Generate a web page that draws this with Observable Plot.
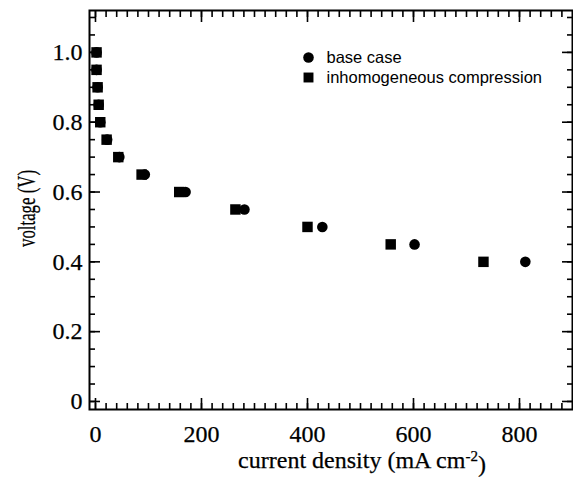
<!DOCTYPE html>
<html>
<head>
<meta charset="utf-8">
<script src="https://cdn.jsdelivr.net/npm/d3@7"></script>
<script src="https://cdn.jsdelivr.net/npm/@observablehq/plot@0.6"></script>
<style>
  html, body { margin: 0; padding: 0; background: white; }
</style>
</head>
<body>
<div id="chart"></div>
<script>
// ---- data ----
const voltage = [1.0, 0.95, 0.9, 0.85, 0.8, 0.75, 0.7, 0.65, 0.6, 0.55, 0.5, 0.45, 0.4];
const baseCase = [2, 2, 4, 6, 9, 22, 45, 93, 170, 281, 428, 602, 811];
const inhomogeneous = [2, 2, 4, 6, 9, 21, 43, 87, 158, 264, 400, 557, 732];
const seriesNames = ["base case", "inhomogeneous compression"];

const xMajor = [0, 200, 400, 600, 800];
const xTickLabels = ["0", "200", "400", "600", "800"];
const yMajor = [0, 0.2, 0.4, 0.6, 0.8, 1.0];
const yTickLabels = ["0", "0.2", "0.4", "0.6", "0.8", "1.0"];
const xMinor = d3.range(0, 900, 20);
const yMinor = d3.range(0, 1.101, 0.05);

const xTitle = "current density (mA cm";
const xTitleSup = "-2";
const xTitleEnd = ")";
const yTitle = "voltage (V)";

// ---- build rows ----
const baseRows = voltage.map((v, i) => ({x: baseCase[i], y: v}));
const inhomRows = voltage.map((v, i) => ({x: inhomogeneous[i], y: v}));

const serif = "Liberation Serif";
const sans = "Liberation Sans";
const noText = () => "";
const tickStyle = {label: null, tickFormat: noText, strokeWidth: 1.6};

const chart = Plot.plot({
  width: 573,
  height: 477,
  marginLeft: 89,
  marginRight: 1,
  marginTop: 10,
  marginBottom: 68,
  x: {domain: [-11.3, 900]},
  y: {domain: [-0.023, 1.12]},
  style: {fontFamily: serif, background: "white", color: "black"},
  marks: [
    // inward ticks on all four sides
    Plot.axisX({anchor: "bottom", ticks: xMajor, tickSize: -11, ...tickStyle}),
    Plot.axisX({anchor: "bottom", ticks: xMinor, tickSize: -6, ...tickStyle}),
    Plot.axisX({anchor: "top", ticks: xMajor, tickSize: -11, ...tickStyle}),
    Plot.axisX({anchor: "top", ticks: xMinor, tickSize: -6, ...tickStyle}),
    Plot.axisY({anchor: "left", ticks: yMajor, tickSize: -11, ...tickStyle}),
    Plot.axisY({anchor: "left", ticks: yMinor, tickSize: -6, ...tickStyle}),
    Plot.axisY({anchor: "right", ticks: yMajor, tickSize: -11, ...tickStyle}),
    Plot.axisY({anchor: "right", ticks: yMinor, tickSize: -6, ...tickStyle}),
    // tick labels
    Plot.axisX({anchor: "bottom", ticks: xMajor, tickSize: 0, tickPadding: 15, label: null,
      tickFormat: d => xTickLabels[xMajor.indexOf(d)], fontSize: 24}),
    Plot.axisY({anchor: "left", ticks: yMajor, tickSize: 0, tickPadding: 7, label: null,
      tickFormat: d => yTickLabels[yMajor.indexOf(d)], fontSize: 24}),
    Plot.frame({stroke: "black", strokeWidth: 2}),
    // data
    Plot.dot(baseRows, {x: "x", y: "y", r: 5.3, fill: "black", symbol: "circle"}),
    Plot.dot(inhomRows, {x: "x", y: "y", r: 5.9, fill: "black", symbol: "square"}),
    // legend
    Plot.dot([seriesNames[0]], {frameAnchor: "top-left", dx: 219, dy: 47, r: 5.3, fill: "black", symbol: "circle"}),
    Plot.dot([seriesNames[1]], {frameAnchor: "top-left", dx: 219, dy: 67, r: 5.6, fill: "black", symbol: "square"}),
    Plot.text([seriesNames[0]], {text: d => d, frameAnchor: "top-left", dx: 237, dy: 47, textAnchor: "start",
      lineAnchor: "middle", fontSize: 16.5, fill: "black"}),
    Plot.text([seriesNames[1]], {text: d => d, frameAnchor: "top-left", dx: 237, dy: 67, textAnchor: "start",
      lineAnchor: "middle", fontSize: 16.5, fill: "black"}),
    // axis titles
    Plot.text([xTitle], {text: d => d, frameAnchor: "bottom", dx: 31, dy: 51, textAnchor: "middle",
      lineAnchor: "middle", fontSize: 24, fill: "black"}),
    Plot.text([yTitle], {text: d => d, frameAnchor: "left", dx: -63, dy: -1.5, rotate: -90, textAnchor: "middle",
      lineAnchor: "middle", fontSize: 25, fill: "black"})
  ]
});

document.getElementById("chart").appendChild(chart);

const svg = d3.select(chart);

// all text serif, legend sans
svg.selectAll("text").each(function () {
  const t = d3.select(this);
  const isLegend = seriesNames.includes(t.text());
  const fam = isLegend ? `"${sans}", Arial, sans-serif` : `"${serif}", "Times New Roman", serif`;
  t.attr("font-family", fam).style("font-family", fam).style("font-variant", "normal");
  if (!isLegend) t.style("stroke", "black").style("stroke-width", 0.25);
});

// superscript in x title
const xt = svg.selectAll("text").filter(function () {
  return d3.select(this).text() === xTitle;
});
xt.text(null);
xt.append("tspan").text(xTitle);
xt.append("tspan").attr("dy", "-0.45em").attr("font-size", 15).text(xTitleSup);
xt.append("tspan").attr("dy", "0.45em").text(xTitleEnd);

// condensed y title as in the reference
svg.selectAll("text").filter(function () {
  return d3.select(this).text() === yTitle;
}).attr("textLength", 77).attr("lengthAdjust", "spacingAndGlyphs");
</script>
</body>
</html>
